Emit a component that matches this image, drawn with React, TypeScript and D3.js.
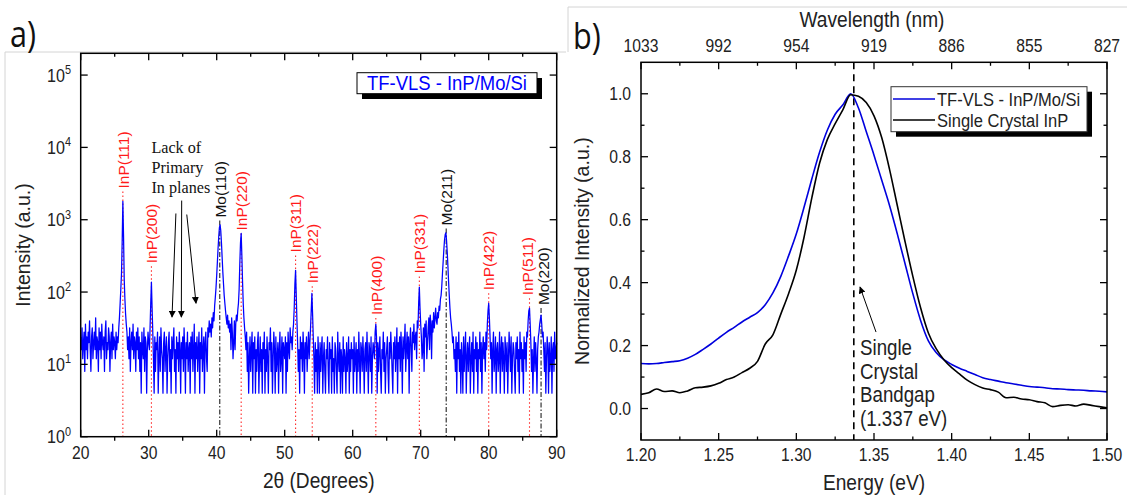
import React from 'react';
import * as d3 from 'd3';

const SANS = "'Liberation Sans', Arial, Helvetica, sans-serif";
const SERIF = "'Liberation Serif', 'Times New Roman', serif";
const PANEL_FONT = "'Open Sans', 'Liberation Sans', sans-serif";

// ---------------- (a) XRD pattern: counts on a 0.1 deg grid from 20 deg ----------------
const XRD_START = 20;
const XRD_STEP = 0.1;
const xrd20to30 = [
  24, 16, 32, 12, 20, 28, 8, 36, 16, 24,
  12, 28, 20, 40, 16, 8, 24, 32, 12, 20,
  28, 16, 44, 12, 24, 20, 8, 32, 16, 28,
  12, 36, 20, 16, 24, 8, 28, 40, 12, 20,
  16, 32, 24, 8, 20, 28, 12, 36, 16, 24,
  20, 12, 28, 16, 24, 20, 32, 45, 70, 110,
  180, 500, 1800, 600, 150, 80, 50, 36, 28, 16,
  24, 12, 32, 8, 20, 28, 16, 36, 12, 24,
  20, 8, 28, 16, 32, 12, 24, 8, 20, 4,
  28, 16, 12, 32, 8, 24, 20, 4, 16, 28,
];
const xrd30to40 = [
  20, 16, 32, 70, 137, 60, 28, 12, 4, 24,
  8, 20, 16, 28, 4, 12, 24, 8, 32, 16,
  12, 4, 20, 28, 8, 16, 24, 4, 12, 20,
  28, 8, 16, 4, 24, 12, 20, 32, 8, 16,
  4, 24, 12, 20, 8, 28, 16, 4, 20, 12,
  24, 8, 32, 16, 4, 20, 12, 28, 8, 16,
  20, 4, 24, 12, 28, 8, 16, 36, 4, 20,
  12, 24, 8, 16, 28, 4, 20, 12, 32, 8,
  16, 24, 4, 20, 28, 12, 8, 32, 24, 40,
  28, 36, 24, 44, 32, 52, 40, 65, 85, 115,
];
const xrd40to50 = [
  170, 260, 400, 580, 780, 850, 700, 480, 300, 190,
  130, 90, 70, 55, 44, 36, 48, 32, 40, 28,
  36, 16, 44, 28, 12, 20, 40, 16, 36, 48,
  40, 56, 70, 110, 250, 480, 650, 320, 140, 70,
  44, 32, 24, 16, 28, 8, 20, 4, 12, 24,
  8, 16, 28, 4, 20, 12, 24, 4, 16, 8,
  20, 28, 4, 12, 24, 8, 16, 4, 20, 12,
  28, 4, 16, 8, 24, 12, 4, 20, 16, 32,
  8, 20, 4, 12, 28, 16, 4, 24, 8, 12,
  20, 4, 16, 28, 8, 12, 24, 4, 20, 16,
];
const xrd50to60 = [
  12, 24, 4, 20, 8, 28, 16, 12, 32, 20,
  24, 16, 28, 36, 60, 130, 200, 90, 40, 20,
  8, 16, 4, 24, 12, 20, 8, 28, 16, 4,
  20, 12, 24, 8, 16, 28, 12, 20, 32, 55,
  96, 50, 24, 12, 4, 20, 8, 16, 4, 24,
  12, 4, 20, 8, 16, 24, 4, 12, 20, 8,
  4, 16, 12, 24, 8, 4, 20, 12, 16, 4,
  24, 8, 12, 4, 20, 16, 8, 4, 28, 12,
  8, 20, 4, 16, 12, 4, 24, 8, 16, 12,
  4, 20, 8, 12, 24, 4, 16, 8, 20, 12,
];
const xrd60to70 = [
  16, 4, 24, 8, 12, 20, 4, 16, 8, 28,
  12, 4, 20, 16, 8, 24, 12, 4, 16, 20,
  8, 28, 12, 4, 20, 16, 8, 24, 4, 12,
  20, 16, 12, 28, 36, 24, 4, 20, 8, 16,
  24, 8, 4, 16, 12, 28, 8, 20, 4, 12,
  16, 24, 8, 4, 20, 12, 28, 16, 8, 4,
  20, 12, 24, 8, 16, 32, 4, 20, 12, 24,
  8, 28, 16, 4, 24, 12, 20, 36, 8, 16,
  28, 12, 24, 4, 20, 32, 16, 8, 28, 20,
  36, 16, 24, 28, 12, 40, 32, 70, 117, 60,
];
const xrd70to80 = [
  36, 24, 12, 16, 32, 8, 36, 24, 40, 12,
  20, 32, 44, 16, 48, 36, 12, 40, 28, 52,
  32, 44, 60, 40, 36, 52, 44, 64, 56, 80,
  90, 120, 180, 260, 380, 520, 620, 660, 520, 360,
  230, 140, 90, 60, 44, 36, 28, 20, 24, 12,
  16, 8, 24, 4, 20, 12, 28, 8, 16, 4,
  20, 12, 4, 24, 8, 16, 28, 4, 12, 20,
  8, 16, 24, 4, 12, 20, 8, 28, 4, 16,
  12, 24, 8, 20, 4, 16, 12, 28, 8, 20,
  4, 16, 24, 12, 20, 8, 28, 16, 36, 55,
];
const xrd80to90 = [
  70, 44, 24, 12, 20, 4, 16, 28, 8, 12,
  24, 4, 16, 20, 8, 12, 28, 4, 16, 24,
  8, 20, 12, 4, 24, 16, 8, 20, 4, 12,
  28, 16, 8, 24, 4, 12, 20, 16, 8, 4,
  20, 12, 24, 8, 16, 4, 28, 12, 20, 8,
  16, 4, 24, 12, 20, 8, 28, 24, 40, 55,
  60, 36, 20, 8, 16, 4, 12, 24, 8, 20,
  12, 4, 16, 24, 28, 36, 42, 48, 36, 24,
  28, 16, 8, 20, 4, 12, 24, 16, 4, 20,
  8, 12, 24, 4, 16, 20, 8, 28, 12, 16, 20,
];
const xrdCounts = [
  ...xrd20to30, ...xrd30to40, ...xrd40to50, ...xrd50to60,
  ...xrd60to70, ...xrd70to80, ...xrd80to90,
];

// Reflection markers
const peakNames = ['InP(111)', 'InP(200)', 'Mo(110)', 'InP(220)', 'InP(311)', 'InP(222)',
  'InP(400)', 'InP(331)', 'Mo(211)', 'InP(422)', 'InP(511)', 'Mo(220)'];
const peakAngles = [26.2, 30.4, 40.45, 43.6, 51.6, 54.05, 63.4, 69.8, 73.75, 80.0, 86.0, 87.7];
const peakLabelAngles = [26.25, 30.4, 40.5, 43.6, 51.6, 54.05, 63.45, 69.8, 73.8, 80.05, 85.7, 88.0];
const peakLabelBase = [2700, 250, 1070, 710, 353, 132, 48, 181, 832, 106, 90, 66];
const peakPhase = ['InP', 'InP', 'Mo', 'InP', 'InP', 'InP', 'InP', 'InP', 'Mo', 'InP', 'InP', 'Mo'];

const xrdMajorTicks = [20, 30, 40, 50, 60, 70, 80, 90];
const xrdMinorTicks = [25, 35, 45, 55, 65, 75, 85];
const xrdDecades = [1, 10, 100, 1000, 10000, 100000];
const xrdDecadeExp = ['0', '1', '2', '3', '4', '5'];

const lackText = ['Lack of', 'Primary', 'In planes'];
const lackArrows = [
  { from: [34.0, 1220], to: [33.43, 45] },
  { from: [34.85, 1840], to: [34.8, 45] },
  { from: [35.6, 1180], to: [36.96, 70] },
];

// ---------------- (b) Photoluminescence ----------------
const plEnergy = [
  1.200, 1.205, 1.210, 1.215, 1.220, 1.225, 1.230, 1.235, 1.240, 1.245,
  1.250, 1.255, 1.260, 1.265, 1.270, 1.275, 1.280, 1.285, 1.290, 1.295,
  1.300, 1.305, 1.310, 1.315, 1.320, 1.325, 1.330, 1.335, 1.340, 1.345,
  1.350, 1.355, 1.360, 1.365, 1.370, 1.375, 1.380, 1.385, 1.390, 1.395,
  1.400, 1.405, 1.410, 1.415, 1.420, 1.425, 1.430, 1.435, 1.440, 1.445,
  1.450, 1.455, 1.460, 1.465, 1.470, 1.475, 1.480, 1.485, 1.490, 1.495, 1.500,
];
const plTfVls = [
  0.143, 0.142, 0.143, 0.146, 0.149, 0.152, 0.160, 0.172, 0.188, 0.205,
  0.224, 0.242, 0.258, 0.275, 0.290, 0.305, 0.330, 0.368, 0.420, 0.485,
  0.555, 0.640, 0.730, 0.815, 0.885, 0.935, 0.965, 1.000, 0.955, 0.880,
  0.805, 0.725, 0.645, 0.555, 0.460, 0.365, 0.280, 0.215, 0.178, 0.155,
  0.140, 0.128, 0.118, 0.108, 0.098, 0.092, 0.087, 0.082, 0.078, 0.074,
  0.070, 0.068, 0.066, 0.063, 0.062, 0.060, 0.059, 0.058, 0.056, 0.055, 0.053,
];
const plSingleCrystal = [
  0.045, 0.050, 0.062, 0.054, 0.056, 0.050, 0.056, 0.066, 0.068, 0.072,
  0.080, 0.092, 0.100, 0.114, 0.128, 0.150, 0.205, 0.235, 0.300, 0.365,
  0.440, 0.545, 0.670, 0.780, 0.855, 0.905, 0.950, 0.997, 0.992, 0.972,
  0.930, 0.860, 0.760, 0.645, 0.530, 0.420, 0.320, 0.240, 0.190, 0.155,
  0.130, 0.110, 0.090, 0.076, 0.065, 0.060, 0.052, 0.034, 0.036, 0.030,
  0.028, 0.022, 0.018, 0.006, 0.010, 0.012, 0.008, 0.014, 0.010, 0.006, 0.002,
];
const plSeriesNames = ['TF-VLS - InP/Mo/Si', 'Single Crystal InP'];
const energyMajorTicks = [1.2, 1.25, 1.3, 1.35, 1.4, 1.45, 1.5];
const energyMinorTicks = [1.225, 1.275, 1.325, 1.375, 1.425, 1.475];
const wavelengthLabels = ['1033', '992', '954', '919', '886', '855', '827'];
const intensityMajorTicks = [0, 0.2, 0.4, 0.6, 0.8, 1.0];
const intensityMinorTicks = [0.1, 0.3, 0.5, 0.7, 0.9];
const BANDGAP_EV = 1.337;
const bandgapText = ['Single', 'Crystal', 'Bandgap', '(1.337 eV)'];

// ---------------- layout ----------------
const W = 1127;
const H = 495;
const A = { l: 80.7, r: 556.7, t: 53.3, b: 436.7 };
const B = { l: 641, r: 1107, t: 62.3, b: 440 };

const xA = d3.scaleLinear().domain([20, 90]).range([A.l, A.r]);
const yA = d3.scaleLog().domain([1, 2e5]).range([A.b, A.t]);
const xB = d3.scaleLinear().domain([1.2, 1.5]).range([B.l, B.r]);
const yB = d3.scaleLinear().domain([-0.1, 1.1]).range([B.b, B.t]);

const SX = 0.87;
const HT = ({ x, y, size, anchor = 'middle', fill = '#222', family = SANS, sx = SX, children }: any) => (
  <text transform={`translate(${x},${y}) scale(${sx},1)`} fontSize={size} textAnchor={anchor}
    fill={fill} fontFamily={family}>{children}</text>
);

export default function App() {
  const xrdLine = d3.line<number>()
    .x((_, i) => xA(XRD_START + i * XRD_STEP))
    .y((d) => yA(d));
  const xrdPath = xrdLine(xrdCounts) || '';

  const plLine = (vals: number[]) =>
    d3.line<number>().x((_, i) => xB(plEnergy[i])).y((d) => yB(d)).curve(d3.curveMonotoneX)(vals) || '';

  const tickStroke = { stroke: '#000', strokeWidth: 1.3 };

  const annX = xB(1.341);
  const annY0 = yB(0.17);

  return (
    <svg width={W} height={H} style={{ position: 'absolute', left: 0, top: 0, background: '#fff' }}>
      <defs>
        <marker id="arrowHead" viewBox="0 0 10 10" refX="9" refY="5" markerWidth="7" markerHeight="7"
          orient="auto" markerUnits="userSpaceOnUse">
          <path d="M0,0 L10,5 L0,10 z" fill="#000" />
        </marker>
      </defs>
      <rect x={0} y={0} width={W} height={H} fill="#fff" />

      {/* light image frames */}
      <g stroke="#d4d4d4" strokeWidth={1} fill="none">
        <line x1={5} y1={52} x2={566} y2={52} />
        <line x1={5} y1={52} x2={5} y2={H} />
        <line x1={568} y1={7} x2={W} y2={7} />
        <line x1={568} y1={7} x2={568} y2={52} />
      </g>

      {/* panel letters */}
      <HT x={10} y={47} size={36} anchor="start" fill="#111" family={PANEL_FONT} sx={0.85}>a)</HT>
      <HT x={573} y={49} size={36} anchor="start" fill="#111" family={PANEL_FONT} sx={0.85}>b)</HT>

      {/* ================= Panel (a) ================= */}
      <g>
        {/* reflection marker lines */}
        {peakAngles.map((p, i) => (
          <line key={'pl' + i} x1={xA(p)} x2={xA(p)} y1={yA(peakLabelBase[i]) + 3} y2={A.b}
            stroke={peakPhase[i] === 'InP' ? '#ff2a2a' : '#222'}
            strokeWidth={1.1}
            strokeDasharray={peakPhase[i] === 'InP' ? '1.5,2.5' : '5,2,1.5,2'} />
        ))}
        <path d={xrdPath} fill="none" stroke="#0000ff" strokeWidth={1.25} strokeLinejoin="round" />
        {peakNames.map((n, i) => (
          <text key={'pn' + i}
            transform={`translate(${xA(peakLabelAngles[i])},${yA(peakLabelBase[i])}) rotate(-90)`}
            dy="0.35em" textAnchor="start" fontSize={15.5} fontFamily={SANS}
            fill={peakPhase[i] === 'InP' ? '#ff1a1a' : '#111'}>{n}</text>
        ))}

        {/* lack of primary In planes */}
        {lackText.map((t, i) => (
          <HT key={'lt' + i} x={xA(30.4)} y={yA(8500) + i * 20} size={17} anchor="start"
            fill="#111" family={SERIF} sx={0.95}>{t}</HT>
        ))}
        {lackArrows.map((a, i) => (
          <line key={'la' + i} x1={xA(a.from[0])} y1={yA(a.from[1])} x2={xA(a.to[0])} y2={yA(a.to[1])}
            stroke="#000" strokeWidth={1} markerEnd="url(#arrowHead)" />
        ))}

        {/* legend */}
        <rect x={362} y={78} width={180} height={21} fill="#000" />
        <rect x={357} y={72.7} width={180} height={21} fill="#fff" stroke="#000" strokeWidth={1} />
        <HT x={447} y={89.5} size={20.5} fill="#0000ff" sx={0.9}>TF-VLS - InP/Mo/Si</HT>

        {/* axes frame */}
        <rect x={A.l} y={A.t} width={A.r - A.l} height={A.b - A.t} fill="none" stroke="#000" strokeWidth={1.5} />
        {xrdMajorTicks.map((t) => (
          <g key={'xa' + t}>
            <line x1={xA(t)} x2={xA(t)} y1={A.b} y2={A.b - 7} {...tickStroke} />
            <line x1={xA(t)} x2={xA(t)} y1={A.t} y2={A.t + 7} {...tickStroke} />
            <HT x={xA(t)} y={459} size={18}>{t}</HT>
          </g>
        ))}
        {xrdMinorTicks.map((t) => (
          <g key={'xam' + t}>
            <line x1={xA(t)} x2={xA(t)} y1={A.b} y2={A.b + 4} {...tickStroke} />
            <line x1={xA(t)} x2={xA(t)} y1={A.t} y2={A.t + 3.5} {...tickStroke} />
          </g>
        ))}
        {xrdDecades.map((t, i) => (
          <g key={'ya' + t}>
            <line x1={A.l} x2={A.l + 7} y1={yA(t)} y2={yA(t)} {...tickStroke} />
            <line x1={A.r} x2={A.r - 7} y1={yA(t)} y2={yA(t)} {...tickStroke} />
            <text transform={`translate(71,${yA(t) + 6.5}) scale(${SX},1)`} textAnchor="end"
              fontSize={18.5} fontFamily={SANS} fill="#222">
              10<tspan dy={-7.5} fontSize={12.5}>{xrdDecadeExp[i]}</tspan>
            </text>
          </g>
        ))}
        <HT x={(A.l + A.r) / 2} y={488} size={22}>2θ (Degrees)</HT>
        <text transform={`translate(30,${(A.t + A.b) / 2}) rotate(-90)`} textAnchor="middle"
          fontSize={19.5} fontFamily={SANS} fill="#222">Intensity (a.u.)</text>
      </g>

      {/* ================= Panel (b) ================= */}
      <g>
        <line x1={xB(BANDGAP_EV)} x2={xB(BANDGAP_EV)} y1={B.t} y2={B.b} stroke="#000"
          strokeWidth={1.6} strokeDasharray="7,5" />
        <path d={plLine(plTfVls)} fill="none" stroke="#0000dd" strokeWidth={1.6} />
        <path d={plLine(plSingleCrystal)} fill="none" stroke="#000" strokeWidth={1.6} />

        {/* bandgap annotation */}
        <line x1={xB(1.3513)} y1={yB(0.243)} x2={xB(1.341)} y2={yB(0.386)} stroke="#000"
          strokeWidth={1} markerEnd="url(#arrowHead)" />
        {bandgapText.map((t, i) => (
          <HT key={'bg' + i} x={annX} y={annY0 + i * 23.5} size={21.5} anchor="start" fill="#222">{t}</HT>
        ))}

        {/* legend */}
        <rect x={896} y={91.7} width={196} height={45} fill="#000" />
        <rect x={891} y={86.7} width={196} height={45} fill="#fff" stroke="#333" strokeWidth={1} />
        <line x1={893} x2={935} y1={99} y2={99} stroke="#0000dd" strokeWidth={1.6} />
        <line x1={893} x2={935} y1={120} y2={120} stroke="#000" strokeWidth={1.6} />
        <HT x={937} y={105.5} size={19} anchor="start" fill="#222">{plSeriesNames[0]}</HT>
        <HT x={937} y={126.5} size={19} anchor="start" fill="#222">{plSeriesNames[1]}</HT>

        {/* axes */}
        <rect x={B.l} y={B.t} width={B.r - B.l} height={B.b - B.t} fill="none" stroke="#000" strokeWidth={1.5} />
        {energyMajorTicks.map((t, i) => (
          <g key={'xb' + t}>
            <line x1={xB(t)} x2={xB(t)} y1={B.b} y2={B.b - 7} {...tickStroke} />
            <line x1={xB(t)} x2={xB(t)} y1={B.t} y2={B.t + 7} {...tickStroke} />
            <HT x={xB(t)} y={461} size={18}>{d3.format('.2f')(t)}</HT>
            <HT x={xB(t)} y={51.5} size={18}>{wavelengthLabels[i]}</HT>
          </g>
        ))}
        {energyMinorTicks.map((t) => (
          <g key={'xbm' + t}>
            <line x1={xB(t)} x2={xB(t)} y1={B.b} y2={B.b - 3.5} {...tickStroke} />
            <line x1={xB(t)} x2={xB(t)} y1={B.t} y2={B.t + 3.5} {...tickStroke} />
          </g>
        ))}
        {intensityMajorTicks.map((t) => (
          <g key={'yb' + t}>
            <line x1={B.l} x2={B.l + 7} y1={yB(t)} y2={yB(t)} {...tickStroke} />
            <line x1={B.r} x2={B.r - 7} y1={yB(t)} y2={yB(t)} {...tickStroke} />
            <HT x={631} y={yB(t) + 6.3} size={18} anchor="end">{d3.format('.1f')(t)}</HT>
          </g>
        ))}
        {intensityMinorTicks.map((t) => (
          <g key={'ybm' + t}>
            <line x1={B.l} x2={B.l + 3.5} y1={yB(t)} y2={yB(t)} {...tickStroke} />
            <line x1={B.r} x2={B.r - 3.5} y1={yB(t)} y2={yB(t)} {...tickStroke} />
          </g>
        ))}
        <HT x={(B.l + B.r) / 2} y={490} size={22}>Energy (eV)</HT>
        <HT x={872} y={27} size={22}>Wavelength (nm)</HT>
        <text transform={`translate(589,${(B.t + B.b) / 2}) rotate(-90)`} textAnchor="middle"
          fontSize={19.5} fontFamily={SANS} fill="#222">Normalized Intensity (a.u.)</text>
      </g>
    </svg>
  );
}
